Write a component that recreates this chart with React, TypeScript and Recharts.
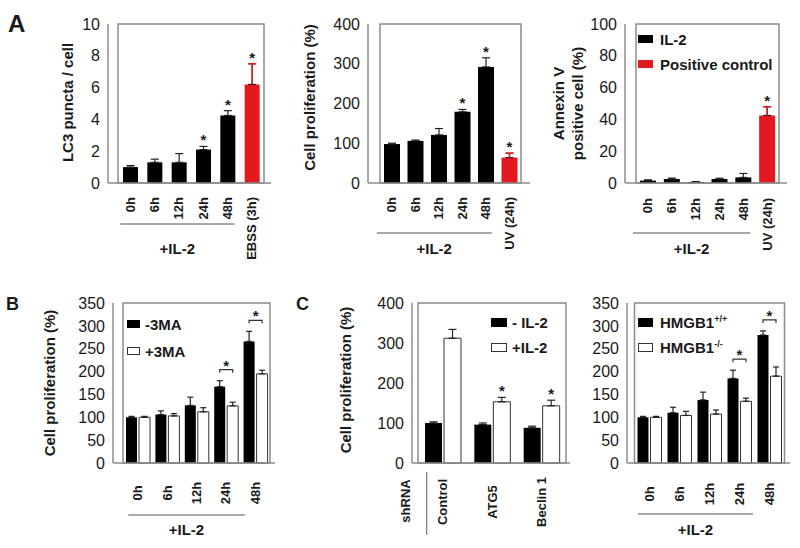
import React from 'react';
import { BarChart, Bar, XAxis, YAxis, ErrorBar, Cell, LabelList, Legend, ReferenceArea } from 'recharts';

const FONT = '"Liberation Sans", Arial, Helvetica, sans-serif';
const INK = '#1a1a1a';
const RED = '#e3191f';
const BOX = '#8c8c8c';

// ---- panel A ----
const timeCats = ['0h', '6h', '12h', '24h', '48h'];

const lc3Cats = [...timeCats, 'EBSS (3h)'];
const lc3Values = [1.0, 1.3, 1.3, 2.1, 4.25, 6.2];
const lc3Err = [0.1, 0.2, 0.55, 0.2, 0.3, 1.3];
const lc3Stars = [false, false, false, true, true, true];
const lc3Fills = ['#000', '#000', '#000', '#000', '#000', RED];

const prolifCats = [...timeCats, 'UV (24h)'];
const prolifValues = [98, 106, 121, 179, 292, 64];
const prolifErr = [2, 2, 16, 6, 23, 11];
const prolifStars = [false, false, false, true, true, true];

const annexinCats = [...timeCats, 'UV (24h)'];
const annexinValues = [1.5, 2.5, 0.6, 2.5, 3.5, 42.5];
const annexinErr = [0.5, 0.6, 0.3, 0.5, 2.5, 5.5];
const annexinStars = [false, false, false, false, false, true];

// ---- panel B ----
const minus3MA = [100, 106, 126, 167, 266];
const minus3MAErr = [2, 8, 18, 13, 22];
const plus3MA = [100, 103, 112, 125, 195];
const plus3MAErr = [2, 5, 9, 8, 8];
const maSig = [false, false, false, true, true];

// ---- panel C ----
const shCats = ['Control', 'ATG5', 'Beclin 1'];
const minusIL2 = [100, 96, 88];
const minusIL2Err = [3, 4, 4];
const plusIL2 = [312, 153, 143];
const plusIL2Err = [22, 11, 14];
const plusIL2Stars = [false, true, true];

const hmgbWT = [100, 110, 138, 185, 280];
const hmgbWTErr = [2, 12, 17, 18, 9];
const hmgbKO = [100, 104, 107, 135, 190];
const hmgbKOErr = [2, 9, 9, 7, 20];
const hmgbSig = [false, false, false, true, true];

const YW = 90;
const MT = 20;
const MR = 6;
const XH = 100;

type Series = {
  key: string;
  name: string;
  values: number[];
  errs: number[];
  fill: string;
  stroke?: string;
  errStroke?: string;
  cellFills?: string[];
  stars?: boolean[];
};

type LegendItem = { label: React.ReactNode; fill: string; stroke?: string };

type PanelCfg = {
  plotX: number;
  plotY: number;
  plotW: number;
  plotH: number;
  cats: string[];
  series: Series[];
  yMax: number;
  yTicks: number[];
  padL: number;
  padR: number;
  barSize: number;
  barGap?: number;
  sig?: boolean[];
  yLabel?: string[];
  yLabelDx?: number[];
  yLabelDy?: number;
  tickAnchor: 'start' | 'middle' | 'end';
  tickDy: number;
  group?: { count: number; label: string; lineDy: number; labelDy: number; l: number; r: number };
  legend?: { items: LegendItem[]; dx: number; cy: number; rowH: number; sw: number; sh: number; gap: number };
  extra?: (x: number, axisY: number) => React.ReactNode;
};

function Panel(c: PanelCfg) {
  const W = YW + c.plotW + MR;
  const H = MT + c.plotH + XH;
  const axisY = MT + c.plotH;
  const gap = c.barGap ?? 0;
  const step = (c.plotW - c.padL - c.padR) / c.cats.length;

  const data = c.cats.map((cat, i) => {
    const row: any = { cat };
    c.series.forEach((s) => {
      row[s.key] = s.values[i];
      row[s.key + 'Err'] = [0, s.errs[i]];
    });
    return row;
  });

  const renderTick = (p: any) => {
    const { x, payload } = p;
    const idx = c.cats.indexOf(payload.value);
    const ty = axisY + c.tickDy;
    const g = c.group;
    return (
      <g>
        <text
          transform={`translate(${x},${ty}) rotate(-90)`}
          textAnchor={c.tickAnchor}
          dominantBaseline="central"
          fontSize={13}
          fontWeight="bold"
          fontFamily={FONT}
          fill={INK}
        >
          {payload.value}
        </text>
        {idx === 0 && g && (
          <g>
            <line
              x1={x - g.l}
              x2={x + step * (g.count - 1) + g.r}
              y1={axisY + g.lineDy}
              y2={axisY + g.lineDy}
              stroke="#555"
              strokeWidth={1.2}
            />
            <text
              x={(x - g.l + x + step * (g.count - 1) + g.r) / 2}
              y={axisY + g.labelDy}
              textAnchor="middle"
              dominantBaseline="central"
              fontSize={15}
              fontWeight="bold"
              fontFamily={FONT}
              fill={INK}
            >
              {g.label}
            </text>
          </g>
        )}
        {idx === 0 && c.extra && c.extra(x, axisY)}
      </g>
    );
  };

  const makeLabel = (si: number) => (p: any) => {
    const vb = p.viewBox || p;
    const x = vb.x ?? p.x;
    const y = vb.y ?? p.y;
    const w = vb.width ?? p.width;
    const h = vb.height ?? p.height;
    const i = p.index;
    const s = c.series[si];
    const v = s.values[i];
    if (!v || !h) return null;
    const ppu = h / v;
    const out: React.ReactNode[] = [];
    if (s.stars && s.stars[i]) {
      const top = y - s.errs[i] * ppu;
      out.push(
        <text key="st" x={x + w / 2} y={top - 1} textAnchor="middle" fontSize={15} fontWeight="bold" fontFamily={FONT} fill={INK}>
          *
        </text>
      );
    }
    // red bars carry a red error whisker in the original
    if (s.cellFills && s.cellFills[i] === RED) {
      const top = y - s.errs[i] * ppu;
      const cx = x + w / 2;
      out.push(
        <path
          key="re"
          d={`M${cx},${y}V${top}M${cx - 4},${top}H${cx + 4}`}
          fill="none"
          stroke={RED}
          strokeWidth={1.4}
        />
      );
    }
    if (si === 0 && c.sig && c.sig[i] && c.series[1]) {
      const s1 = c.series[1];
      const top0 = y - s.errs[i] * ppu;
      const top1 = y + h - (s1.values[i] + s1.errs[i]) * ppu;
      const by = Math.min(top0, top1) - 11;
      const x0 = x + w / 2;
      const x1 = x + w * 1.5 + gap;
      out.push(
        <path key="br" d={`M${x0},${by + 3}V${by}H${x1}V${by + 3}`} fill="none" stroke="#333" strokeWidth={1.2} />,
        <text key="bs" x={(x0 + x1) / 2} y={by + 1} textAnchor="middle" fontSize={15} fontWeight="bold" fontFamily={FONT} fill={INK}>
          *
        </text>
      );
    }
    return <g>{out}</g>;
  };

  const renderYLabel = () => {
    if (!c.yLabel) return null;
    const cy = MT + c.plotH / 2 + (c.yLabelDy ?? 0);
    return (
      <g>
        {c.yLabel.map((t, k) => {
          const lx = YW - (c.yLabelDx ? c.yLabelDx[k] : 50);
          return (
            <text
              key={k}
              transform={`translate(${lx},${cy}) rotate(-90)`}
              textAnchor="middle"
              dominantBaseline="central"
              fontSize={15}
              fontWeight="bold"
              fontFamily={FONT}
              fill={INK}
            >
              {t}
            </text>
          );
        })}
      </g>
    );
  };

  const lg = c.legend;

  return (
    <div style={{ position: 'absolute', left: c.plotX - YW, top: c.plotY - MT }}>
      <BarChart
        width={W}
        height={H}
        data={data}
        margin={{ top: MT, right: MR, left: 0, bottom: 0 }}
        barGap={gap}
        barSize={c.barSize}
      >
        <XAxis
          dataKey="cat"
          height={XH}
          interval={0}
          padding={{ left: c.padL, right: c.padR }}
          tickLine={false}
          axisLine={{ stroke: BOX, strokeWidth: 1.5 }}
          tick={renderTick}
        />
        <YAxis
          width={YW}
          domain={[0, c.yMax]}
          ticks={c.yTicks}
          interval={0}
          tickLine={false}
          axisLine={{ stroke: BOX, strokeWidth: 1.5 }}
          tick={{ fontSize: 16, fill: INK, fontFamily: FONT }}
          label={renderYLabel}
        />
        {/* plot frame */}
        <ReferenceArea y1={0} y2={c.yMax} fill="none" fillOpacity={0} stroke={BOX} strokeWidth={1.5} ifOverflow="visible" />
        {c.series.map((s, si) => (
          <Bar
            key={s.key}
            dataKey={s.key}
            name={s.name}
            fill={s.fill}
            stroke={s.stroke}
            strokeWidth={s.stroke ? 1 : 0}
            isAnimationActive={false}
          >
            {s.cellFills && s.cellFills.map((f, i) => <Cell key={i} fill={f} />)}
            <ErrorBar
              dataKey={s.key + 'Err'}
              direction="y"
              width={Math.max(3, Math.round(c.barSize / 4))}
              stroke="#222"
              strokeWidth={1.2}
            />
            <LabelList dataKey={s.key} content={makeLabel(si)} />
          </Bar>
        ))}
        {lg && (
          <Legend
            layout="horizontal"
            verticalAlign="middle"
            align="center"
            wrapperStyle={{ left: YW + lg.dx, top: MT + lg.cy - lg.rowH / 2, width: 'auto', height: 'auto' }}
            content={() => (
              <div style={{ fontFamily: FONT, fontWeight: 'bold', fontSize: 15, color: INK }}>
                {lg.items.map((it, k) => (
                  <div key={k} style={{ display: 'flex', alignItems: 'center', height: lg.rowH, whiteSpace: 'nowrap' }}>
                    <span
                      style={{
                        display: 'inline-block',
                        width: lg.sw,
                        height: lg.sh,
                        background: it.fill,
                        border: it.stroke ? `1px solid ${it.stroke}` : 'none',
                        boxSizing: 'border-box',
                        marginRight: lg.gap,
                      }}
                    />
                    <span>{it.label}</span>
                  </div>
                ))}
              </div>
            )}
          />
        )}
      </BarChart>
    </div>
  );
}

const ilGroup = { count: 5, label: '+IL-2' };

export default function App() {
  return (
    <div style={{ position: 'absolute', left: 0, top: 0, width: 800, height: 548, background: '#fff', overflow: 'hidden' }}>
      <Panel
        plotX={108}
        plotY={24}
        plotW={163}
        plotH={159}
        cats={lc3Cats}
        series={[{ key: 'lc3', name: 'LC3', values: lc3Values, errs: lc3Err, fill: '#000', cellFills: lc3Fills, stars: lc3Stars }]}
        yMax={10}
        yTicks={[0, 2, 4, 6, 8, 10]}
        padL={10}
        padR={7}
        barSize={15}
        yLabel={['LC3 puncta / cell']}
        yLabelDx={[41]}
        yLabelDy={-1}
        tickAnchor="end"
        tickDy={14}
        group={{ ...ilGroup, lineDy: 41, labelDy: 65, l: 10, r: 7 }}
      />
      <Panel
        plotX={368}
        plotY={24}
        plotW={162}
        plotH={159}
        cats={prolifCats}
        series={[
          {
            key: 'pro',
            name: 'Proliferation',
            values: prolifValues,
            errs: prolifErr,
            fill: '#000',
            cellFills: lc3Fills,
            stars: prolifStars,
          },
        ]}
        yMax={400}
        yTicks={[0, 100, 200, 300, 400]}
        padL={12}
        padR={9}
        barSize={16}
        yLabel={['Cell proliferation (%)']}
        yLabelDx={[59]}
        yLabelDy={-6}
        tickAnchor="end"
        tickDy={14}
        group={{ ...ilGroup, lineDy: 50, labelDy: 65, l: 15, r: 6 }}
      />
      <Panel
        plotX={625}
        plotY={24}
        plotW={162}
        plotH={159}
        cats={annexinCats}
        series={[
          {
            key: 'ann',
            name: 'Annexin V',
            values: annexinValues,
            errs: annexinErr,
            fill: '#000',
            cellFills: lc3Fills,
            stars: annexinStars,
          },
        ]}
        yMax={100}
        yTicks={[0, 20, 40, 60, 80, 100]}
        padL={11}
        padR={8}
        barSize={16}
        yLabel={['Annexin V', 'positive cell (%)']}
        yLabelDx={[67, 48]}
        tickAnchor="end"
        tickDy={15}
        group={{ ...ilGroup, lineDy: 50, labelDy: 65, l: 15, r: 7 }}
        legend={{
          items: [
            { label: 'IL-2', fill: '#000' },
            { label: 'Positive control', fill: RED },
          ],
          dx: 13,
          cy: 15,
          rowH: 25,
          sw: 15,
          sh: 8,
          gap: 7,
        }}
      />
      <Panel
        plotX={113}
        plotY={303}
        plotW={162}
        plotH={160}
        cats={timeCats}
        series={[
          { key: 'm3', name: '-3MA', values: minus3MA, errs: minus3MAErr, fill: '#000' },
          { key: 'p3', name: '+3MA', values: plus3MA, errs: plus3MAErr, fill: '#fff', stroke: '#333' },
        ]}
        yMax={350}
        yTicks={[0, 50, 100, 150, 200, 250, 300, 350]}
        padL={10}
        padR={5}
        barSize={11}
        barGap={2}
        sig={maSig}
        yLabel={['Cell proliferation (%)']}
        yLabelDx={[64]}
        tickAnchor="middle"
        tickDy={30}
        group={{ ...ilGroup, lineDy: 52, labelDy: 66, l: 9.5, r: -10.5 }}
        legend={{
          items: [
            { label: '-3MA', fill: '#000' },
            { label: '+3MA', fill: '#fff', stroke: '#333' },
          ],
          dx: 14,
          cy: 21,
          rowH: 27,
          sw: 13,
          sh: 8,
          gap: 5,
        }}
      />
      <Panel
        plotX={412}
        plotY={303}
        plotW={158}
        plotH={160}
        cats={shCats}
        series={[
          { key: 'mi', name: '- IL-2', values: minusIL2, errs: minusIL2Err, fill: '#000' },
          { key: 'pi', name: '+IL-2', values: plusIL2, errs: plusIL2Err, fill: '#fff', stroke: '#333', stars: plusIL2Stars },
        ]}
        yMax={400}
        yTicks={[0, 100, 200, 300, 400]}
        padL={6}
        padR={4}
        barSize={17}
        barGap={2}
        yLabel={['Cell proliferation (%)']}
        yLabelDx={[67]}
        yLabelDy={-3}
        tickAnchor="middle"
        tickDy={39}
        extra={(x, axisY) => (
          <g>
            <text
              transform={`translate(${x - 37},${axisY + 38}) rotate(-90)`}
              textAnchor="middle"
              dominantBaseline="central"
              fontSize={13}
              fontWeight="bold"
              fontFamily={FONT}
              fill={INK}
            >
              shRNA
            </text>
            <line x1={x - 16} x2={x - 16} y1={axisY + 9} y2={axisY + 72} stroke="#777" strokeWidth={1.2} />
          </g>
        )}
        legend={{
          items: [
            { label: '- IL-2', fill: '#000' },
            { label: '+IL-2', fill: '#fff', stroke: '#333' },
          ],
          dx: 79,
          cy: 19.5,
          rowH: 25,
          sw: 16,
          sh: 9,
          gap: 5,
        }}
      />
      <Panel
        plotX={627}
        plotY={303}
        plotW={163}
        plotH={160}
        cats={timeCats}
        series={[
          { key: 'wt', name: 'HMGB1+/+', values: hmgbWT, errs: hmgbWTErr, fill: '#000' },
          { key: 'ko', name: 'HMGB1-/-', values: hmgbKO, errs: hmgbKOErr, fill: '#fff', stroke: '#333' },
        ]}
        yMax={350}
        yTicks={[0, 50, 100, 150, 200, 250, 300, 350]}
        padL={7.5}
        padR={5.5}
        barSize={11}
        barGap={2}
        sig={hmgbSig}
        tickAnchor="middle"
        tickDy={31}
        group={{ ...ilGroup, lineDy: 51, labelDy: 66, l: 11.5, r: -16.5 }}
        legend={{
          items: [
            { label: <>HMGB1<sup style={{ fontSize: 9 }}>+/+</sup></>, fill: '#000' },
            { label: <>HMGB1<sup style={{ fontSize: 9 }}>-/-</sup></>, fill: '#fff', stroke: '#333' },
          ],
          dx: 11,
          cy: 19.5,
          rowH: 25,
          sw: 15,
          sh: 9,
          gap: 7,
        }}
      />
      <svg width={800} height={548} style={{ position: 'absolute', left: 0, top: 0, pointerEvents: 'none' }}>
        <text x={8} y={32} fontSize={24} fontWeight="bold" fontFamily={FONT} fill={INK}>A</text>
        <text x={6} y={310} fontSize={18} fontWeight="bold" fontFamily={FONT} fill={INK}>B</text>
        <text x={296} y={310} fontSize={18} fontWeight="bold" fontFamily={FONT} fill={INK}>C</text>
      </svg>
    </div>
  );
}
